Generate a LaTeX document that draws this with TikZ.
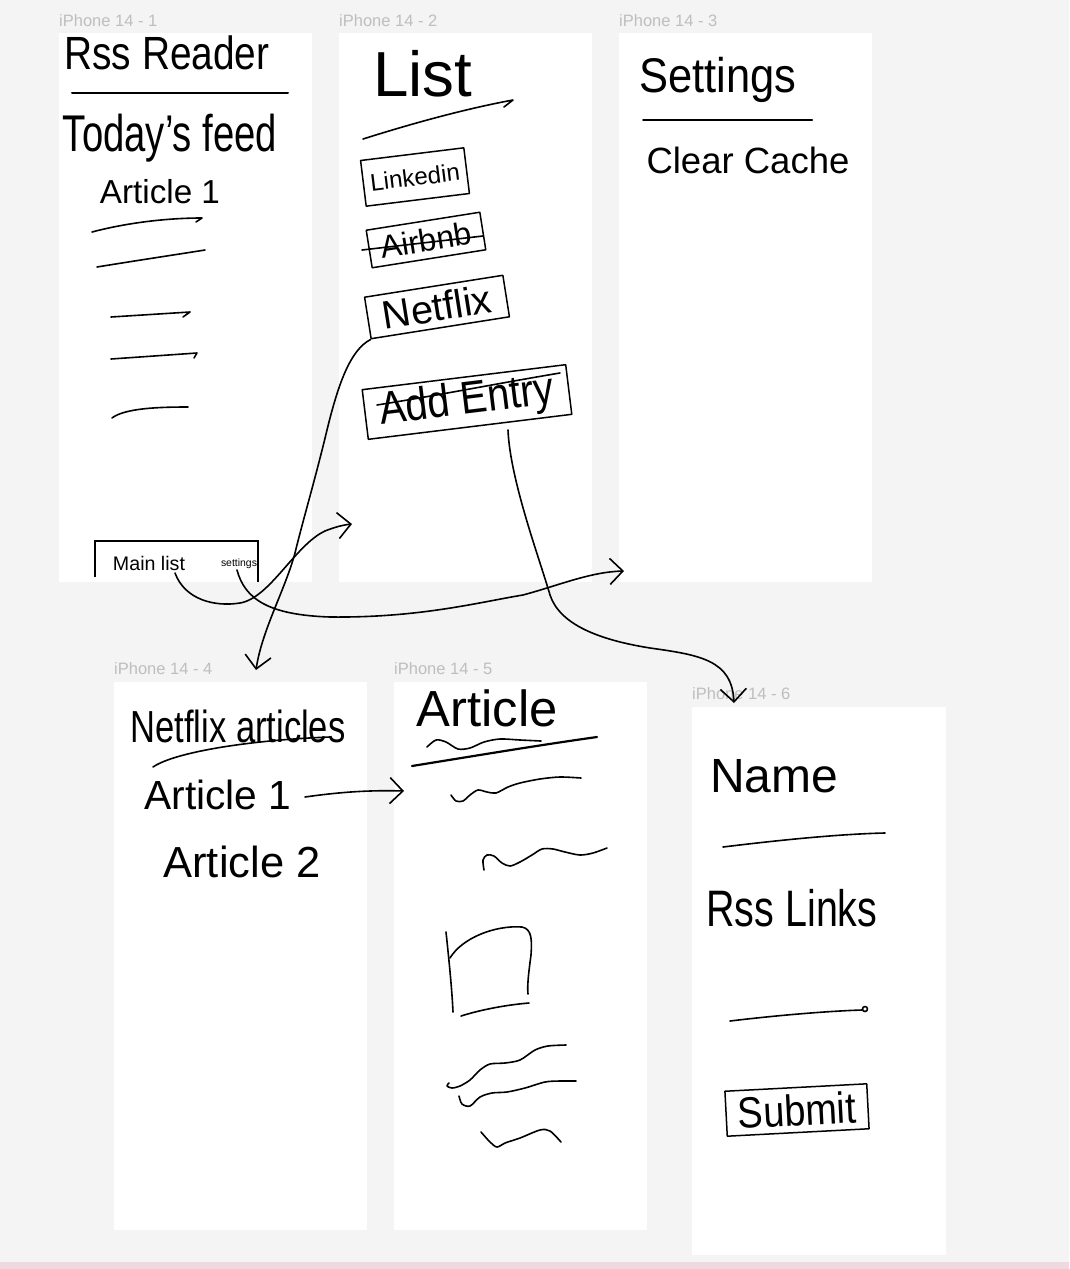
\documentclass[tikz,border=0pt]{standalone}
\usepackage{fontspec}
\usepackage{graphicx}
\setmainfont{Liberation Sans}[Ligatures=NoCommon]
\usetikzlibrary{arrows.meta}
\definecolor{bg}{RGB}{244,244,244}
\definecolor{lbl}{RGB}{190,190,190}
\definecolor{pinkbar}{RGB}{238,217,224}
\newcommand{\hwt}[2]{\resizebox{#1pt}{!}{#2}}
\newcommand{\hwv}[3]{\scalebox{1}[#1]{\resizebox{#2pt}{!}{#3}}}
\begin{document}
\begin{tikzpicture}[x=1pt,y=-1pt,
  ink/.style={line width=1.6pt, line cap=round, line join=round},
  frame/.style={fill=white, draw=none, anchor=north west, inner sep=0pt, minimum width=253pt, minimum height=549pt},
  flabel/.style={anchor=base west, inner sep=0pt, text=lbl, font=\fontsize{16.5}{18}\selectfont},
  hand/.style={inner sep=0pt, text=black},
  hbox/.style={draw, line width=1.5pt, line join=round, inner sep=0pt},
  conn/.style={ink, -{Straight Barb[length=13pt,width=26pt]}}]
\useasboundingbox (0,0) rectangle (1069,1269);
\fill[bg] (0,0) rectangle (1069,1269);
\fill[pinkbar] (0,1262) rectangle (1069,1269);
% frames
\node[frame] (f1) at (59,33) {};
\node[frame] (f2) at (339,33) {};
\node[frame] (f3) at (619,33) {};
\node[frame, minimum height=548pt] (f4) at (114,682) {};
\node[frame, minimum height=548pt] (f5) at (394,682) {};
\node[frame, minimum width=254pt, minimum height=548pt] (f6) at (692,707) {};
\node[flabel] (l1) at (59,26) {iPhone 14 - 1};
\node[flabel] (l2) at (339,26) {iPhone 14 - 2};
\node[flabel] (l3) at (619,26) {iPhone 14 - 3};
\node[flabel] (l4) at (114,674) {iPhone 14 - 4};
\node[flabel] (l5) at (394,674) {iPhone 14 - 5};
\node[flabel] (l6) at (692,699) {iPhone 14 - 6};
% ---------- frame 1
\node[hand] (title) at (167,53) {\hwv{1.2}{205}{Rss Reader}};
\draw[ink, line width=2pt] (72,93) -- (288,93);
\node[hand] (today) at (170,138) {\hwv{1.35}{214}{Today's feed}};
\node[hand] (art1a) at (160,192) {\hwt{120}{Article 1}};
\draw[ink] (92,232) .. controls (130,222) and (170,218) .. (202,218) -- (196,222);
\draw[ink] (97,267) .. controls (140,260) and (180,254) .. (205,250);
\draw[ink] (111,317) -- (190,312) -- (183,317);
\draw[ink] (111,359) -- (197,353) -- (194,358);
\draw[ink] (112,418) .. controls (125,408) and (160,407) .. (188,407);
\draw[line width=1.3pt] (95,577) |- (258,541) -- (258,582);
\node[hand] (mainlist) at (149,563) {\hwt{72}{Main list}};
\node[hand] (tabset) at (239,564) {\hwt{36}{settings}};
% ---------- frame 2
\node[hand] (list) at (423,74) {\hwt{99}{List}};
\draw[ink] (363,139) .. controls (420,121) and (470,108) .. (513,100) -- (504,107);
\node[hbox, rotate=7, minimum width=104pt, minimum height=46pt] (linkedin) at (415,177) {\hwt{90}{Linkedin}};
\node[hbox, rotate=9, minimum width=115pt, minimum height=38pt] (airbnb) at (426,240) {\hwt{92}{Airbnb}};
\draw[ink] (362,250) -- (483,236);
\node[hbox, rotate=9, minimum width=140pt, minimum height=42pt] (netflix) at (437,307) {\hwt{110}{Netflix}};
\node[hbox, rotate=7, minimum width=205pt, minimum height=50pt] (addentry) at (467,402) {\hwv{1.15}{175}{Add Entry}};
\draw[ink] (377,405) .. controls (440,395) and (500,383) .. (560,373);
% ---------- frame 3
\node[hand] (settings) at (718,80) {\hwv{1.12}{157}{Settings}};
\draw[ink, line width=2pt] (643,120) -- (812,120);
\node[hand] (clear) at (748,160) {\hwt{203}{Clear Cache}};
% ---------- frame 4
\node[hand] (nfart) at (238,726) {\hwv{1.3}{215}{Netflix articles}};
\draw[ink] (153,767) .. controls (175,752) and (250,740) .. (330,737);
\node[hand] (art1b) at (218,795) {\hwt{147}{Article 1}};
\node[hand] (art2) at (242,862) {\hwt{157}{Article 2}};
% ---------- frame 5
\node[hand] (article) at (487,708) {\hwt{141}{Article}};
\draw[ink] plot[smooth] coordinates {(427,747) (436,740) (446,742) (458,749) (470,748) (484,742) (500,739) (520,740) (541,741)};
\draw[ink, line width=2.2pt] (412,766) .. controls (480,755) and (540,745) .. (597,737);
\draw[ink] plot[smooth] coordinates {(451,795) (456,801) (463,801) (470,795) (478,790) (487,792) (496,793) (508,787) (520,783) (540,779) (560,777) (581,778)};
\draw[ink] plot[smooth] coordinates {(484,870) (483,860) (487,855) (494,856) (502,863) (510,866) (520,862) (532,855) (542,849) (553,849) (565,852) (580,855) (593,853) (607,848)};
\draw[ink] (446,932) .. controls (449,960) and (452,990) .. (453,1012);
\draw[ink] (450,958) .. controls (462,938) and (495,925) .. (522,927) .. controls (532,929) and (532,940) .. (531,955) .. controls (529,970) and (527,985) .. (528,994);
\draw[ink] (461,1016) .. controls (480,1010) and (505,1005) .. (529,1003);
\draw[ink] plot[smooth] coordinates {(449,1083) (447,1086) (452,1088) (460,1086) (470,1080) (480,1070) (490,1064) (505,1063) (520,1060) (535,1050) (548,1046) (566,1045)};
\draw[ink] plot[smooth] coordinates {(459,1096) (462,1104) (470,1106) (480,1097) (492,1093) (507,1092) (525,1088) (545,1082) (560,1081) (576,1081)};
\draw[ink] plot[smooth] coordinates {(481,1132) (490,1142) (497,1147) (505,1143) (520,1138) (540,1130) (550,1131) (561,1142)};
% ---------- frame 6
\node[hand] (name) at (774,776) {\hwt{128}{Name}};
\draw[ink] (723,847) .. controls (780,840) and (840,834) .. (885,833);
\node[hand] (rsslinks) at (792,908) {\hwv{1.3}{171}{Rss Links}};
\draw[ink] (730,1021) .. controls (780,1015) and (830,1011) .. (862,1010);
\draw[ink] (865,1009) circle (2.5);
\node[hbox, rotate=3, minimum width=142pt, minimum height=45pt] (submit) at (797,1110) {\hwv{1.15}{118}{Submit}};
% ---------- connectors
\coordinate (mlout) at (175,573);
\coordinate (setout) at (237,570);
\coordinate (aeout) at (508,430);
\coordinate (a1out) at (305,797);
\coordinate (f2in) at (352,524);
\coordinate (f3in) at (624,571);
\coordinate (f4in) at (256,670);
\coordinate (f6in) at (734,703);
\coordinate (f5in) at (404,791);
\draw[conn] (mlout) .. controls (185,600) and (215,607) .. (240,603) .. controls (270,598) and (295,545) .. (325,531) .. controls (335,527) and (343,525) .. (f2in);
\draw[conn] (setout) .. controls (245,600) and (270,615) .. (330,617) .. controls (420,618) and (480,602) .. (523,595) .. controls (560,585) and (590,572) .. (f3in);
\draw[conn] (netflix.south west) .. controls (350,350) and (338,385) .. (327,430) .. controls (315,480) and (303,520) .. (295,553) .. controls (285,590) and (262,630) .. (f4in);
\draw[conn] (aeout) .. controls (510,480) and (540,560) .. (550,595) .. controls (560,625) and (600,640) .. (650,648) .. controls (700,655) and (732,660) .. (f6in);
\draw[conn] (a1out) .. controls (340,792) and (370,790) .. (f5in);
\end{tikzpicture}
\end{document}
